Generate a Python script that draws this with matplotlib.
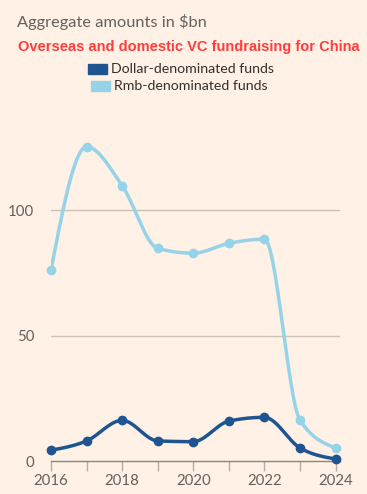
import matplotlib
matplotlib.use("Agg")
import matplotlib.pyplot as plt
from matplotlib.patches import Rectangle
import numpy as np

# values ($bn)
years = [2016, 2017, 2018, 2019, 2020, 2021, 2022, 2023, 2024]
dollar_funds = [4.3, 8.0, 16.2, 8.0, 7.7, 15.9, 17.4, 5.2, 0.8]
rmb_funds = [76.1, 125.2, 109.7, 84.7, 82.8, 86.7, 88.4, 16.3, 5.2]
yticks = [0, 50, 100]
xticks = [2016, 2018, 2020, 2022, 2024]

BG = "#FFF1E5"
DARK = "#1E5591"
LIGHT = "#96D3E8"
GREY_TXT = "#66605C"


def monotone_curve(x, y, n=30):
    # monotone cubic (same idea as d3.curveMonotoneX), only for drawing the line
    x = np.asarray(x, float)
    y = np.asarray(y, float)
    h = np.diff(x)
    s = np.diff(y) / h
    m = np.zeros_like(y)
    for i in range(1, len(y) - 1):
        p = (s[i - 1] * h[i] + s[i] * h[i - 1]) / (h[i - 1] + h[i])
        m[i] = (np.sign(s[i - 1]) + np.sign(s[i])) * min(abs(s[i - 1]), abs(s[i]), 0.5 * abs(p))
    m[0] = (3 * s[0] - m[1]) / 2
    m[-1] = (3 * s[-1] - m[-2]) / 2
    xs, ys = [], []
    for i in range(len(h)):
        t = np.linspace(0, 1, n)
        h00 = 2 * t**3 - 3 * t**2 + 1
        h10 = t**3 - 2 * t**2 + t
        h01 = -2 * t**3 + 3 * t**2
        h11 = t**3 - t**2
        xs.append(x[i] + t * h[i])
        ys.append(h00 * y[i] + h10 * h[i] * m[i] + h01 * y[i + 1] + h11 * h[i] * m[i + 1])
    return np.concatenate(xs), np.concatenate(ys)


fig = plt.figure(figsize=(3.67, 4.94), dpi=100, facecolor=BG)
ax = fig.add_axes([0.139, 0.0668, 0.787, 0.6605], facecolor=BG)

for vals, col in [(rmb_funds, LIGHT), (dollar_funds, DARK)]:
    cx, cy = monotone_curve(years, vals)
    ax.plot(cx, cy, color=col, lw=2.5, solid_capstyle="round", zorder=3)
    ax.plot(years, vals, "o", color=col, ms=6, zorder=4, clip_on=False)

ax.set_xlim(2016, 2024.12)
ax.set_ylim(0, 130)
ax.set_yticks(yticks)
ax.set_xticks(years)
ax.set_xticklabels([str(y) if y in xticks else "" for y in years])
for v in [50, 100]:
    ax.axhline(v, color="#CCC1B7", lw=1, zorder=1)

for sp in ["top", "right", "left"]:
    ax.spines[sp].set_visible(False)
ax.spines["bottom"].set_color("#8C847E")
ax.spines["bottom"].set_linewidth(1)
ax.tick_params(axis="x", length=7, width=1, color="#B5ADA6", pad=2,
               labelsize=10.8, labelcolor=GREY_TXT)
ax.tick_params(axis="y", length=0, pad=12, labelsize=10.8, labelcolor=GREY_TXT)
for lab in ax.get_xticklabels() + ax.get_yticklabels():
    lab.set_fontfamily("Lato")

# header
fig.text(17 / 367, 1 - 22 / 494, "Aggregate amounts in $bn", fontsize=11.8,
         color=GREY_TXT, family="Lato", va="center", ha="left")
fig.text(18 / 367, 1 - 47 / 494, "Overseas and domestic VC fundraising for China",
         fontsize=10.5, color="#FF3D3D", family="Liberation Sans", weight="bold",
         va="center", ha="left")

# legend drawn by hand to keep the stacked, centred look
legend_rows = [("Dollar-denominated funds", DARK, 88, 69), ("Rmb-denominated funds", LIGHT, 91, 86)]
for label, col, x0, yc in legend_rows:
    fig.add_artist(Rectangle((x0 / 367, 1 - (yc + 5) / 494), 19 / 367, 10 / 494,
                             transform=fig.transFigure, color=col))
    fig.text((x0 + 23) / 367, 1 - yc / 494, label, fontsize=10.2, color="#33302E",
             family="Lato", va="center", ha="left")

fig.savefig("out.png", dpi=100, facecolor=BG)
